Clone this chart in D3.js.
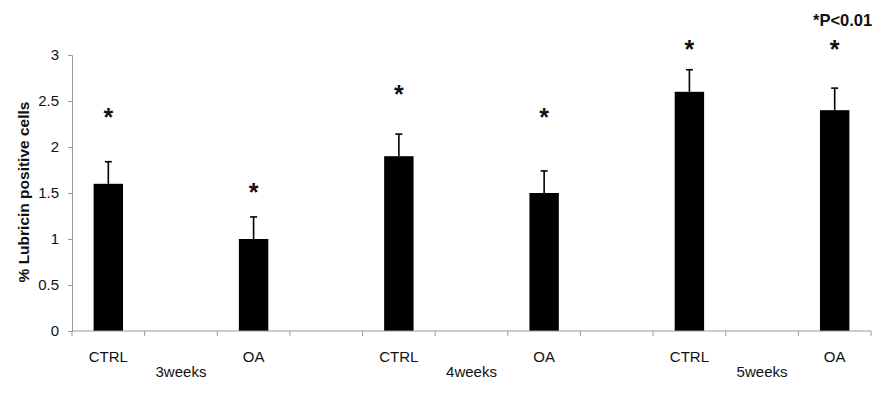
<!DOCTYPE html>
<html>
<head>
<meta charset="utf-8">
<script src="https://cdn.jsdelivr.net/npm/d3@7/dist/d3.min.js"></script>
<style>
  body { margin: 0; background: #fff; }
  text { font-family: "Liberation Sans", Arial, sans-serif; fill: #111; }
</style>
</head>
<body>
<div id="chart"></div>
<script>
// data
var weeks = ["3weeks", "4weeks", "5weeks"];
var groups = ["CTRL", "OA"];
var values = [1.6, 1.0, 1.9, 1.5, 2.6, 2.4];   // CTRL/OA per week
var errors = [0.24, 0.24, 0.24, 0.24, 0.24, 0.24];
var starLevels = [2.38, 1.57, 2.63, 2.38, 3.12, 3.12]; // where the * sit
var yTicks = [0, 0.5, 1, 1.5, 2, 2.5, 3];

var width = 884, height = 395;
var margin = { left: 72, right: 13, top: 55, bottom: 64 };

var svg = d3.select("#chart").append("svg")
    .attr("width", width)
    .attr("height", height);

// 11 slots: CTRL, week, OA, gap, CTRL, week, OA, gap ...
var slots = [];
weeks.forEach(function (w, i) {
    slots.push("c" + i, "w" + i, "o" + i);
    if (i < weeks.length - 1) slots.push("g" + i);
});

var x = d3.scaleBand()
    .domain(slots)
    .range([margin.left, width - margin.right]);
var y = d3.scaleLinear()
    .domain([0, 3])
    .range([height - margin.bottom, margin.top]);

var bars = [];
weeks.forEach(function (w, i) {
    groups.forEach(function (g, j) {
        var k = i * 2 + j;
        bars.push({
            slot: (j == 0 ? "c" : "o") + i,
            label: g,
            value: values[k],
            err: errors[k],
            star: starLevels[k]
        });
    });
});

var barW = x.bandwidth() * 0.405;
var axisColor = "#9a9a9a";

// y axis
var yAxis = svg.append("g")
    .attr("transform", "translate(" + margin.left + ",0)")
    .call(d3.axisLeft(y).tickValues(yTicks).tickSize(4).tickPadding(9)
        .tickFormat(function (d) { return d; }));
yAxis.select(".domain").attr("stroke", axisColor);
yAxis.selectAll(".tick line").attr("stroke", axisColor);
yAxis.selectAll("text")
    .style("font-size", "15px")
    .attr("fill", "#222");

// bars
svg.append("g").selectAll("rect")
    .data(bars)
    .enter().append("rect")
    .attr("x", function (d) { return x(d.slot) + x.bandwidth() / 2 - barW / 2; })
    .attr("y", function (d) { return y(d.value); })
    .attr("width", barW)
    .attr("height", function (d) { return y(0) - y(d.value); })
    .attr("fill", "#000");

// error bars (upper only)
var eb = svg.append("g").selectAll("g")
    .data(bars)
    .enter().append("g")
    .attr("stroke", "#000")
    .attr("stroke-width", 1.6);
eb.append("line")
    .attr("x1", function (d) { return x(d.slot) + x.bandwidth() / 2; })
    .attr("x2", function (d) { return x(d.slot) + x.bandwidth() / 2; })
    .attr("y1", function (d) { return y(d.value); })
    .attr("y2", function (d) { return y(d.value + d.err); });
eb.append("line")
    .attr("x1", function (d) { return x(d.slot) + x.bandwidth() / 2 - 3.5; })
    .attr("x2", function (d) { return x(d.slot) + x.bandwidth() / 2 + 3.5; })
    .attr("y1", function (d) { return y(d.value + d.err); })
    .attr("y2", function (d) { return y(d.value + d.err); });

// x axis: line + ticks at slot boundaries
var xg = svg.append("g");
xg.append("line")
    .attr("x1", margin.left).attr("x2", width - margin.right)
    .attr("y1", y(0)).attr("y2", y(0))
    .attr("stroke", axisColor);
var bounds = slots.map(function (s) { return x(s); }).concat([width - margin.right]);
xg.selectAll(".xt")
    .data(bounds)
    .enter().append("line")
    .attr("x1", function (d) { return d; }).attr("x2", function (d) { return d; })
    .attr("y1", y(0)).attr("y2", y(0) + 5)
    .attr("stroke", axisColor);

// category labels
svg.append("g").selectAll("text")
    .data(bars)
    .enter().append("text")
    .attr("x", function (d) { return x(d.slot) + x.bandwidth() / 2; })
    .attr("y", y(0) + 31)
    .attr("text-anchor", "middle")
    .style("font-size", "15px")
    .text(function (d) { return d.label; });

svg.append("g").selectAll("text")
    .data(weeks)
    .enter().append("text")
    .attr("x", function (d, i) { return x("w" + i) + x.bandwidth() / 2; })
    .attr("y", y(0) + 46)
    .attr("text-anchor", "middle")
    .style("font-size", "15px")
    .text(function (d) { return d; });

// significance stars
svg.append("g").selectAll("text")
    .data(bars)
    .enter().append("text")
    .attr("x", function (d) { return x(d.slot) + x.bandwidth() / 2; })
    .attr("y", function (d) { return y(d.star) + 14; })
    .attr("text-anchor", "middle")
    .style("font-size", "25px")
    .style("font-weight", "bold")
    .text("*");

svg.append("text")
    .attr("x", 813)
    .attr("y", 26)
    .style("font-size", "16.5px")
    .style("font-weight", "bold")
    .text("*P<0.01");

// y title
svg.append("text")
    .attr("transform", "translate(29," + (y(1.5) - 1) + ") rotate(-90)")
    .attr("text-anchor", "middle")
    .style("font-size", "15.5px")
    .style("font-weight", "bold")
    .text("% Lubricin positive cells");
</script>
</body>
</html>
